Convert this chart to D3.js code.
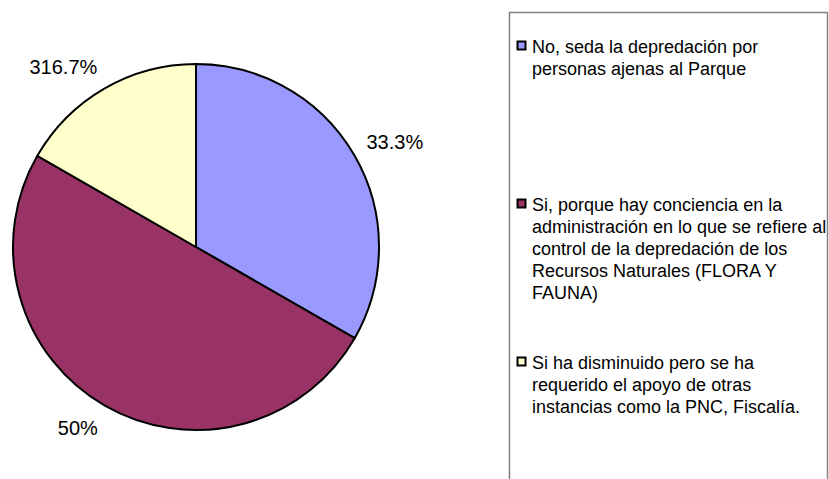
<!DOCTYPE html>
<html>
<head>
<meta charset="utf-8">
<script src="https://cdn.jsdelivr.net/npm/d3@7"></script>
<style>
  html, body { margin: 0; padding: 0; background: #fff; }
  svg { display: block; font-family: "Liberation Sans", Arial, sans-serif; }
</style>
</head>
<body>
<svg id="chart" width="829" height="479"></svg>
<script>
const categories = [
  ["No, seda la depredación por", "personas ajenas al Parque"],
  ["Si, porque hay conciencia en la", "administración en lo que se refiere al", "control de la depredación de los", "Recursos Naturales (FLORA Y", "FAUNA)"],
  ["Si ha disminuido pero se ha", "requerido el apoyo de otras", "instancias como la PNC, Fiscalía."]
];
const values = [33.3, 50, 16.7];
const valueLabels = ["33.3%", "50%", "316.7%"];
const colors = ["#9999FF", "#993366", "#FFFFCC"];
const legendFirstBaselines = [53, 211, 369];

const svg = d3.select("#chart");
const cx = 196, cy = 247, r = 183, labelR = 197;

const pie = d3.pie().sort(null).value(d => d)(values);
const arc = d3.arc().innerRadius(0).outerRadius(r);
const labelArc = d3.arc().innerRadius(labelR).outerRadius(labelR);

const g = svg.append("g").attr("transform", `translate(${cx},${cy})`);
g.selectAll("path").data(pie).join("path")
  .attr("d", arc)
  .attr("fill", (d, i) => colors[i])
  .attr("stroke", "#000")
  .attr("stroke-width", 2)
  .attr("stroke-linejoin", "round");

// Labels anchored by their corner nearest the pie (Excel style)
const labelSize = 20, labelH = 20;
g.selectAll("text.lbl").data(pie).join("text")
  .attr("class", "lbl")
  .each(function(d, i) {
    const [px, py] = labelArc.centroid(d);
    const mid = (d.startAngle + d.endAngle) / 2;
    const c = Math.cos(mid);
    const f = Math.sign(c) * Math.min(1, 1.2 * Math.abs(c));
    const yc = py - f * labelH / 2;
    d3.select(this)
      .attr("x", px)
      .attr("y", yc)
      .attr("text-anchor", px < 0 ? "end" : "start");
  })
  .attr("dy", "0.35em")
  .attr("font-size", labelSize)
  .attr("fill", "#000")
  .text((d, i) => valueLabels[i]);

// Legend
svg.append("rect")
  .attr("x", 509.5).attr("y", 12.5)
  .attr("width", 318).attr("height", 500)
  .attr("fill", "none")
  .attr("stroke", "#808080")
  .attr("stroke-width", 1.5);

const leg = svg.selectAll("g.leg").data(categories).join("g").attr("class", "leg");
leg.append("rect")
  .attr("x", 517.5)
  .attr("y", (d, i) => legendFirstBaselines[i] - 11.5)
  .attr("width", 8).attr("height", 8)
  .attr("fill", (d, i) => colors[i])
  .attr("stroke", "#000")
  .attr("stroke-width", 2);
leg.append("text")
  .attr("x", 532)
  .attr("y", (d, i) => legendFirstBaselines[i])
  .attr("font-size", 18)
  .attr("fill", "#000")
  .selectAll("tspan").data(d => d).join("tspan")
  .attr("x", 532)
  .attr("dy", (d, j) => j === 0 ? 0 : 22)
  .text(d => d);
</script>
</body>
</html>
